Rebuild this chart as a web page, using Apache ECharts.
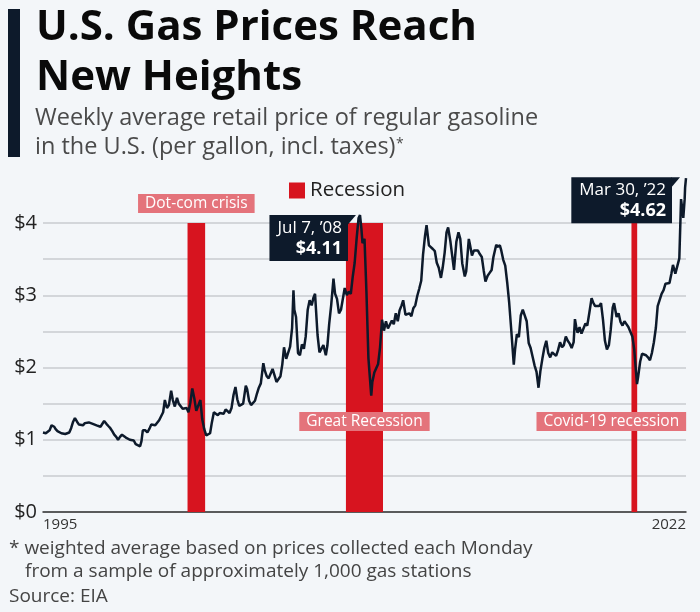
<!DOCTYPE html>
<html><head><meta charset="utf-8">
<script src="https://cdn.jsdelivr.net/npm/echarts@6/dist/echarts.min.js"></script>
<style>html,body{margin:0;padding:0;background:#f3f6f9}#c{width:700px;height:612px}</style>
</head><body><div id="c"></div>
<script>
// ---- DATA ----
const dates = [
'1995-01-02','1995-01-16','1995-02-15','1995-03-15','1995-04-15','1995-05-15','1995-06-05','1995-06-26','1995-07-15','1995-08-15','1995-09-15','1995-10-15','1995-11-15','1995-12-15',
'1996-01-15','1996-02-15','1996-03-15','1996-04-15','1996-05-13','1996-06-15','1996-07-15','1996-08-15','1996-09-15','1996-10-15','1996-11-15','1996-12-15',
'1997-01-15','1997-02-15','1997-03-15','1997-04-15','1997-05-15','1997-06-15','1997-07-15','1997-08-11','1997-09-15','1997-10-15','1997-11-15','1997-12-15',
'1998-01-15','1998-02-15','1998-03-15','1998-04-15','1998-05-15','1998-06-15','1998-07-15','1998-08-15','1998-09-15','1998-10-15','1998-11-15','1998-12-15',
'1999-01-15','1999-02-22','1999-03-15','1999-04-05','1999-04-19','1999-05-15','1999-06-15','1999-07-15','1999-08-15','1999-09-15','1999-10-15','1999-11-15','1999-12-15',
'2000-01-15','2000-02-15','2000-03-13','2000-03-27','2000-04-15','2000-05-15','2000-06-19','2000-07-15','2000-08-15','2000-09-18','2000-10-15','2000-11-15','2000-12-15',
'2001-01-15','2001-02-15','2001-03-15','2001-04-15','2001-05-14','2001-06-15','2001-07-15','2001-08-15','2001-09-17','2001-10-15','2001-11-15','2001-12-17',
'2002-01-15','2002-02-15','2002-03-15','2002-04-15','2002-05-15','2002-06-15','2002-07-15','2002-08-15','2002-09-15','2002-10-15','2002-11-15','2002-12-15',
'2003-01-15','2003-02-15','2003-03-17','2003-04-15','2003-05-15','2003-06-15','2003-07-15','2003-08-25','2003-09-15','2003-10-15','2003-11-15','2003-12-15',
'2004-01-15','2004-02-15','2004-03-15','2004-04-15','2004-05-24','2004-06-15','2004-07-15','2004-08-15','2004-09-15','2004-10-15','2004-11-15','2004-12-15',
'2005-01-15','2005-02-15','2005-03-15','2005-04-11','2005-05-15','2005-06-15','2005-07-15','2005-08-15','2005-09-05','2005-09-19','2005-10-15','2005-11-15','2005-12-15',
'2006-01-15','2006-02-15','2006-03-15','2006-04-15','2006-05-15','2006-06-15','2006-07-15','2006-08-07','2006-09-15','2006-10-15','2006-11-15','2006-12-15',
'2007-01-22','2007-02-15','2007-03-15','2007-04-15','2007-05-21','2007-06-15','2007-07-15','2007-08-15','2007-09-15','2007-10-15','2007-11-12','2007-12-15',
'2008-01-15','2008-02-15','2008-03-15','2008-04-15','2008-05-15','2008-06-15','2008-07-07','2008-07-28','2008-08-15','2008-09-15','2008-10-15','2008-11-15','2008-12-29',
'2009-01-15','2009-02-15','2009-03-15','2009-04-15','2009-05-15','2009-06-15','2009-07-15','2009-08-15','2009-09-15','2009-10-15','2009-11-15','2009-12-15',
'2010-01-15','2010-02-15','2010-03-15','2010-04-15','2010-05-10','2010-06-15','2010-07-15','2010-08-15','2010-09-15','2010-10-15','2010-11-15','2010-12-15',
'2011-01-15','2011-02-15','2011-03-15','2011-04-15','2011-05-09','2011-06-15','2011-07-15','2011-08-15','2011-09-15','2011-10-15','2011-11-15','2011-12-19',
'2012-01-15','2012-02-15','2012-03-15','2012-04-09','2012-05-15','2012-06-15','2012-07-09','2012-08-15','2012-09-17','2012-10-15','2012-11-15','2012-12-24',
'2013-01-15','2013-02-25','2013-03-15','2013-04-15','2013-05-15','2013-06-15','2013-07-15','2013-08-15','2013-09-15','2013-10-15','2013-11-11','2013-12-15',
'2014-01-15','2014-02-15','2014-03-15','2014-04-28','2014-05-15','2014-06-23','2014-07-15','2014-08-15','2014-09-15','2014-10-15','2014-11-15','2014-12-15',
'2015-01-26','2015-02-15','2015-03-15','2015-04-15','2015-05-15','2015-06-15','2015-07-15','2015-08-15','2015-09-15','2015-10-15','2015-11-15','2015-12-15',
'2016-01-15','2016-02-15','2016-03-15','2016-04-15','2016-05-15','2016-06-15','2016-07-15','2016-08-15','2016-09-15','2016-10-15','2016-11-15','2016-12-15',
'2017-01-15','2017-02-15','2017-03-15','2017-04-15','2017-05-15','2017-06-15','2017-07-15','2017-08-15','2017-09-04','2017-09-25','2017-10-15','2017-11-15','2017-12-15',
'2018-01-15','2018-02-15','2018-03-15','2018-04-15','2018-05-21','2018-06-15','2018-07-15','2018-08-15','2018-09-15','2018-10-15','2018-11-15','2018-12-15',
'2019-01-15','2019-02-15','2019-03-15','2019-04-15','2019-05-06','2019-06-15','2019-07-15','2019-08-15','2019-09-15','2019-10-15','2019-11-15','2019-12-15',
'2020-01-15','2020-02-15','2020-03-15','2020-04-27','2020-05-15','2020-06-15','2020-07-15','2020-08-15','2020-09-15','2020-10-15','2020-11-15','2020-12-15',
'2021-01-15','2021-02-15','2021-03-15','2021-04-15','2021-05-15','2021-06-15','2021-07-15','2021-08-15','2021-09-15','2021-10-15','2021-11-08','2021-12-15',
'2022-01-15','2022-02-15','2022-03-14','2022-03-28','2022-04-18','2022-05-09','2022-05-16','2022-05-30'
];
const prices = [
1.10,1.11,1.09,1.08,1.13,1.20,1.22,1.18,1.15,1.12,1.11,1.09,1.07,1.08,
1.09,1.10,1.16,1.25,1.30,1.25,1.21,1.19,1.20,1.23,1.25,1.24,
1.25,1.22,1.20,1.20,1.19,1.18,1.17,1.26,1.22,1.19,1.16,1.12,
1.07,1.04,1.00,1.04,1.07,1.05,1.03,1.01,1.00,1.02,0.99,0.94,
0.93,0.91,0.98,1.13,1.14,1.13,1.10,1.15,1.21,1.22,1.20,1.22,1.27,
1.27,1.38,1.55,1.50,1.44,1.48,1.68,1.55,1.46,1.58,1.50,1.49,1.43,
1.44,1.44,1.38,1.52,1.71,1.57,1.40,1.38,1.55,1.29,1.15,1.06,
1.08,1.09,1.24,1.38,1.36,1.34,1.37,1.37,1.36,1.42,1.40,1.37,
1.44,1.62,1.73,1.56,1.47,1.46,1.50,1.75,1.70,1.54,1.48,1.47,
1.54,1.64,1.72,1.78,2.06,1.96,1.88,1.85,1.84,1.98,1.96,1.80,
1.79,1.88,2.04,2.28,2.12,2.14,2.29,2.55,3.07,2.80,2.70,2.20,2.17,
2.32,2.26,2.43,2.80,2.93,2.86,2.97,3.02,2.45,2.21,2.22,2.31,
2.17,2.30,2.60,2.86,3.23,3.02,2.95,2.75,2.80,2.80,3.10,3.00,
3.05,3.02,3.25,3.45,3.78,4.07,4.11,3.93,3.72,3.78,3.05,2.13,1.61,
1.80,1.93,1.93,2.05,2.28,2.66,2.51,2.64,2.54,2.56,2.65,2.60,
2.75,2.64,2.79,2.86,2.93,2.73,2.74,2.75,2.71,2.82,2.86,2.99,
3.09,3.20,3.56,3.82,3.97,3.69,3.68,3.64,3.61,3.45,3.38,3.24,
3.38,3.59,3.87,3.94,3.74,3.52,3.35,3.74,3.87,3.78,3.44,3.26,
3.33,3.78,3.70,3.55,3.62,3.62,3.62,3.57,3.53,3.34,3.19,3.27,
3.31,3.35,3.53,3.70,3.67,3.69,3.62,3.49,3.41,3.18,2.90,2.55,
2.04,2.25,2.46,2.42,2.72,2.80,2.80,2.64,2.34,2.27,2.15,2.03,
1.94,1.72,1.95,2.12,2.27,2.37,2.20,2.14,2.21,2.23,2.16,2.24,
2.35,2.28,2.31,2.43,2.37,2.33,2.27,2.35,2.67,2.56,2.48,2.56,2.47,
2.54,2.61,2.58,2.75,2.96,2.90,2.85,2.85,2.85,2.89,2.66,2.37,
2.25,2.31,2.52,2.83,2.89,2.70,2.75,2.63,2.58,2.64,2.60,2.56,
2.57,2.43,2.25,1.77,1.87,2.08,2.19,2.17,2.17,2.14,2.10,2.20,
2.35,2.55,2.85,2.86,3.02,3.07,3.16,3.18,3.17,3.30,3.42,3.30,
3.31,3.51,4.33,4.23,4.07,4.33,4.49,4.62
];
const xRange = ['1995-01-02','2022-05-30'];
const xLabels = ['1995','2022'];
const yLabels = ['$0','$1','$2','$3','$4'];
const recessionNames = ['Dot-com crisis','Great Recession','Covid-19 recession'];
const recessionStart = ['2001-03-01','2007-12-01','2020-02-01'];
const recessionEnd = ['2001-11-30','2009-06-30','2020-04-30'];
const calloutDates = ['2008-07-07','2022-05-30'];
const calloutValues = [4.11,4.62];
const calloutLabels = ['Jul 7, \u201908','Mar 30, \u201922'];
const calloutValueText = ['$4.11','$4.62'];

// ---- CHART ----
const FONT = '"Open Sans", sans-serif';
const RED = '#d7141f';
const NAVY = '#0d1a2b';
const minT = +new Date(xRange[0]), maxT = +new Date(xRange[1]);
const chart = echarts.init(document.getElementById('c'), null, {renderer:'canvas'});

const recLabelCfg = [
  {position:'top', distance:10, offset:[0,0]},
  {position:'insideBottom', distance:81, offset:[0,0]},
  {position:'insideBottom', distance:81, offset:[-23,0]}
];

const staticGraphics = [
  {type:'rect', shape:{x:8, y:9, width:12, height:148}, style:{fill:NAVY}},
  {type:'text', x:36, y:7, style:{text:'U.S. Gas Prices Reach', fontSize:42, fontWeight:'bold', fontFamily:FONT, fill:'#0a0a0a'}},
  {type:'text', x:36, y:57, style:{text:'New Heights', fontSize:42, fontWeight:'bold', fontFamily:FONT, fill:'#0a0a0a'}},
  {type:'text', x:35, y:106, style:{text:'Weekly average retail price of regular gasoline', fontSize:23.5, fontFamily:FONT, fill:'#4a4a4a'}},
  {type:'text', x:35, y:135, style:{text:'in the U.S. (per gallon, incl. taxes)', fontSize:23.5, fontFamily:FONT, fill:'#4a4a4a'}},
  {type:'text', x:396, y:137, style:{text:'*', fontSize:14, fontFamily:FONT, fill:'#4a4a4a'}},
  {type:'text', x:9, y:539, style:{text:'* weighted average based on prices collected each Monday', fontSize:19, fontFamily:FONT, fill:'#444'}},
  {type:'text', x:25, y:562, style:{text:'from a sample of approximately 1,000 gas stations', fontSize:19, fontFamily:FONT, fill:'#444'}},
  {type:'text', x:9, y:587, style:{text:'Source: EIA', fontSize:19, fontFamily:FONT, fill:'#444'}}
];

const option = {
  backgroundColor:'#f3f6f9',
  animation:false,
  textStyle:{fontFamily:FONT},
  grid:{left:43, right:14, top:223, bottom:100, containLabel:false},
  legend:{
    data:[{name:'Recession', icon:'rect'}],
    left:289, top:180, padding:0, itemWidth:16, itemHeight:16, itemGap:8,
    textStyle:{fontSize:20.5, color:'#222', fontFamily:FONT}
  },
  xAxis:{
    type:'time', min:minT, max:maxT,
    axisLine:{show:true, lineStyle:{color:'#333', width:1.5}},
    axisTick:{show:false}, splitLine:{show:false},
    axisLabel:{
      show:true, showMinLabel:true, showMaxLabel:true, hideOverlap:false,
      alignMinLabel:'left', alignMaxLabel:'right',
      fontSize:15, color:'#333', margin:5,
      formatter:function(v){
        if (Math.abs(v-minT) < 864e5) return xLabels[0];
        if (Math.abs(v-maxT) < 864e5) return xLabels[1];
        return '';
      }
    }
  },
  yAxis:{
    type:'value', min:0, max:4, interval:0.5,
    axisLine:{show:false}, axisTick:{show:false},
    splitLine:{lineStyle:{color:'#c8cbcf', width:1.5}},
    axisLabel:{fontSize:20, color:'#222', margin:6,
      formatter:function(v){ return Number.isInteger(v) ? yLabels[v] : ''; }}
  },
  series:[
    {
      name:'Recession', type:'line', data:[], color:RED, itemStyle:{color:RED},
      markArea:{
        silent:true,
        itemStyle:{color:RED, opacity:1},
        data: recessionNames.map(function(n,i){
          return [
            {name:n, xAxis:recessionStart[i], yAxis:0,
             label:{show:true, position:recLabelCfg[i].position, distance:recLabelCfg[i].distance,
               offset:recLabelCfg[i].offset, formatter:n, color:'#fff', fontSize:15.5, fontFamily:FONT,
               backgroundColor:'#e4737b', padding:[2,7,1,7]}},
            {xAxis:recessionEnd[i], yAxis:4}
          ];
        })
      }
    },
    {
      name:'Price', type:'line', z:5, clip:false, showSymbol:false, symbol:'none',
      lineStyle:{color:NAVY, width:2.5}, itemStyle:{color:NAVY},
      data: dates.map(function(d,i){ return [d, prices[i]]; })
    }
  ],
  graphic: staticGraphics
};
chart.setOption(option);

// Callouts positioned through the chart's own axes
const calloutGraphics = [];
calloutDates.forEach(function(d,i){
  const p = chart.convertToPixel({gridIndex:0}, [+new Date(d), calloutValues[i]]);
  const gap = i === 0 ? 12 : 14;
  const right = p[0] - gap, top = p[1] - (i === 0 ? 0 : 1);
  calloutGraphics.push({
    type:'text', x:right, y:top, z:100,
    style:{
      text:'{a|'+calloutLabels[i]+'}\n{b|'+calloutValueText[i]+'}',
      align:'right', verticalAlign:'top',
      backgroundColor:NAVY, padding:[3,6,2,8],
      rich:{a:{fontSize:17, fill:'#fff', fontFamily:FONT, lineHeight:20, align:'right'},
            b:{fontSize:18, fill:'#fff', fontWeight:'bold', fontFamily:FONT, lineHeight:21, align:'right'}}
    }
  });
  calloutGraphics.push({
    type:'polygon', z:100,
    shape:{points:[[right-0.5, top],[right+8, top],[right-0.5, top+10]]},
    style:{fill:NAVY}
  });
});
chart.setOption({graphic: staticGraphics.concat(calloutGraphics)});
</script>
</body></html>
